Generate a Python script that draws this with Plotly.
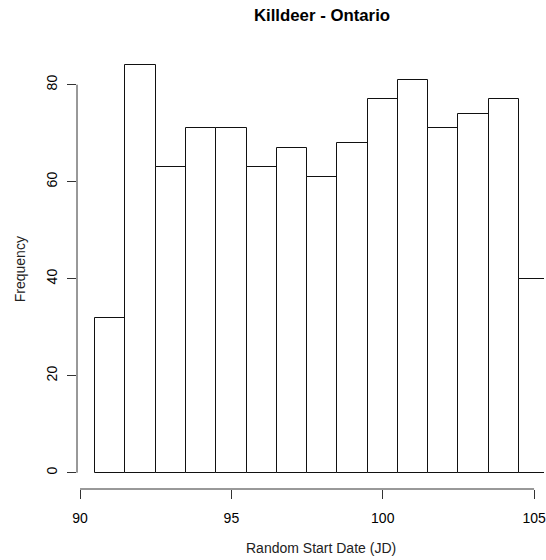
import plotly.graph_objects as go

# Histogram of random start dates (Julian day), bin width 1
bin_left = [90.5, 91.5, 92.5, 93.5, 94.5, 95.5, 96.5, 97.5, 98.5, 99.5,
            100.5, 101.5, 102.5, 103.5, 104.5]
counts = [32, 84, 63, 71, 71, 63, 67, 61, 68, 77, 81, 71, 74, 77, 40]
x_ticks = [90, 95, 100, 105]
y_ticks = [0, 20, 40, 60, 80]

bin_width = 1.0
centers = [b + bin_width / 2 for b in bin_left]

W, H = 546, 560
ml, mr, mt, mb = 77, 0, 49, 71

# R-style 4% padding on the y range
ymax = max(counts)
y_range = [-0.04 * ymax, ymax * 1.04]
x0 = bin_left[0] - 0.04 * (bin_left[-1] + bin_width - bin_left[0])
px_per_unit = 30.4
x_range = [x0, x0 + (W - ml - mr) / px_per_unit]

font = "Liberation Sans, Arial, sans-serif"

fig = go.Figure()
fig.add_trace(go.Bar(
    x=centers, y=counts, width=bin_width,
    marker=dict(color="white", line=dict(color="#111111", width=1)),
    showlegend=False, hoverinfo="x+y",
))


def xp(v):
    return (v - x_range[0]) / (x_range[1] - x_range[0])


def yp(v):
    return (v - y_range[0]) / (y_range[1] - y_range[0])


# axis lines spanning only the tick range
fig.add_shape(type="line", xref="paper", yref="paper",
              x0=xp(x_ticks[0]), x1=xp(x_ticks[-1]), y0=0, y1=0,
              line=dict(color="#333333", width=1))
fig.add_shape(type="line", xref="paper", yref="paper",
              x0=0, x1=0, y0=yp(y_ticks[0]), y1=yp(y_ticks[-1]),
              line=dict(color="#333333", width=1))

# axis titles
fig.add_annotation(text="Random Start Date (JD)", xref="paper", yref="paper",
                   x=(322 - ml) / (W - ml - mr), y=-(548 - (H - mb)) / (H - mt - mb),
                   xanchor="center", yanchor="middle", showarrow=False,
                   font=dict(family=font, size=14, color="#222222"))
fig.add_annotation(text="Frequency", xref="paper", yref="paper",
                   x=-(ml - 20) / (W - ml - mr), y=0.5, textangle=-90,
                   xanchor="center", yanchor="middle", showarrow=False,
                   font=dict(family=font, size=14, color="#222222"))

fig.update_layout(
    width=W, height=H,
    margin=dict(l=ml, r=mr, t=mt, b=mb),
    paper_bgcolor="white", plot_bgcolor="white",
    font=dict(family=font, size=14, color="#000000"),
    bargap=0,
    title=dict(text="<b>Killdeer - Ontario</b>", x=322 / W, xanchor="center",
               y=1 - 15 / H, yanchor="middle",
               font=dict(family=font, size=16.8, color="#000000")),
    xaxis=dict(range=x_range, tickvals=x_ticks, ticks="outside", ticklen=9,
               tickcolor="#333333", showline=False, showgrid=False,
               zeroline=False, ticklabeloverflow="allow",
               ticklabelstandoff=7),
    yaxis=dict(range=y_range, tickvals=y_ticks, ticks="outside", ticklen=9,
               tickcolor="#333333", showline=False, showgrid=False,
               zeroline=False, tickangle=-90, ticklabelstandoff=4),
)

fig.write_html("out.html")
